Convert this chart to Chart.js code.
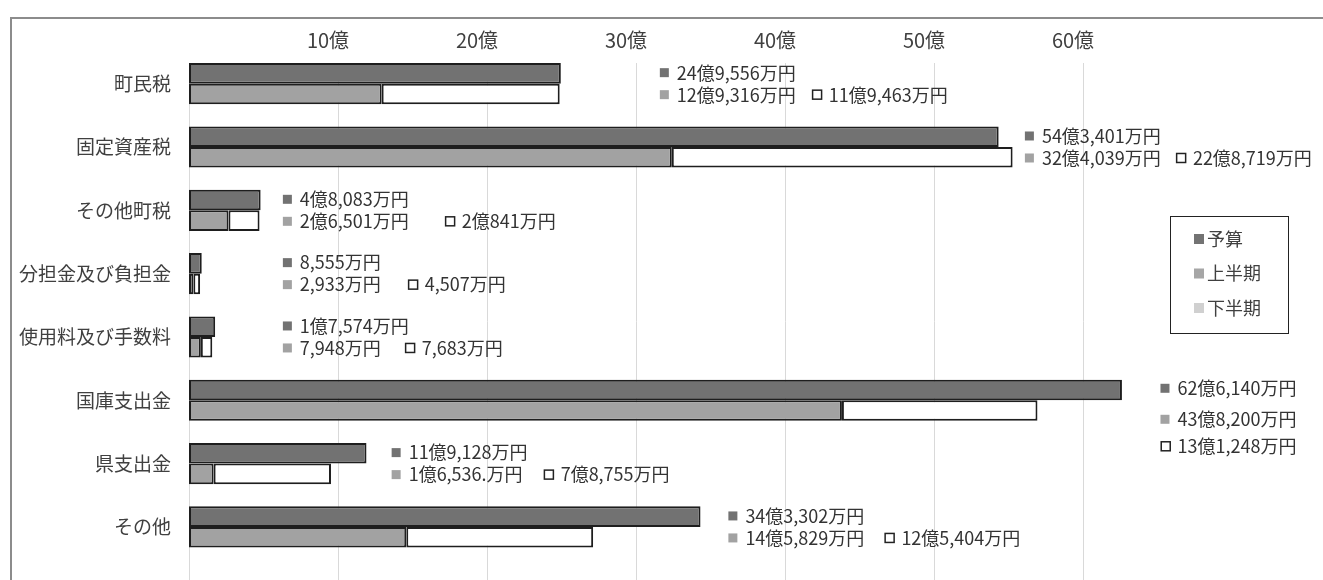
<!DOCTYPE html>
<html lang="ja">
<head>
<meta charset="utf-8">
<title>歳入 予算と執行状況</title>
<script src="https://cdn.jsdelivr.net/npm/chart.js@4.4.1/dist/chart.umd.min.js"></script>
<style>
    html, body { margin: 0; padding: 0; background: #fff; }
    #wrap { width: 1323px; height: 580px; position: relative; }
</style>
</head>
<body>
<div id="wrap"><canvas id="revChart"></canvas></div>
<script>
// 歳入の予算・上半期・下半期 (単位: 万円)
const categories = ['町民税', '固定資産税', 'その他町税', '分担金及び負担金', '使用料及び手数料', '国庫支出金', '県支出金', 'その他'];
const budget     = [249556, 543401, 48083, 8555, 17574, 626140, 119128, 343302];
const firstHalf  = [129316, 324039, 26501, 2933, 7948, 438200, 16536, 145829];
const secondHalf = [119463, 228719, 20841, 4507, 7683, 131248, 78755, 125404];

const budgetText = ['24億9,556万円', '54億3,401万円', '4億8,083万円', '8,555万円', '1億7,574万円', '62億6,140万円', '11億9,128万円', '34億3,302万円'];
const firstText  = ['12億9,316万円', '32億4,039万円', '2億6,501万円', '2,933万円', '7,948万円', '43億8,200万円', '1億6,536.万円', '14億5,829万円'];
const secondText = ['11億9,463万円', '22億8,719万円', '2億841万円', '4,507万円', '7,683万円', '13億1,248万円', '7億8,755万円', '12億5,404万円'];

const seriesNames = ['予算', '上半期', '下半期'];
const tickStep = 10;   // 億
const tickLast = 60;   // 億

(function () {
    const dark = '#727272';
    const mid = '#a2a2a2';
    const edge = '#1e1e1e';
    const text = '#404040';
    const font = '"Noto Sans CJK JP", "Noto Sans", sans-serif';
    const oku = v => v / 10000;

    // where each label block starts (axis value in 億) and how far the □ item sits to the right
    const labelAt = [31.6, 56.1, 6.3, 6.3, 6.3, 65.2, 13.6, 36.2];
    const secondGap = [152, 151, 162, 125, 122, 0, 152, 156];
    const legendColors = ['#737373', '#a6a6a6', '#d0d0d0'];

    function mark(c, x, y, fill) {
        if (fill) {
            c.fillStyle = fill;
            c.fillRect(x, y - 4.5, 9, 9);
        } else {
            c.strokeStyle = '#222';
            c.lineWidth = 1.5;
            c.strokeRect(x + 0.75, y - 4.5, 9, 9);
        }
    }

    const sheet = {
        id: 'sheet',
        beforeDraw(chart) {
            const c = chart.ctx;
            c.save();
            c.fillStyle = '#fff';
            c.fillRect(0, 0, chart.width, chart.height);
            c.strokeStyle = '#8c8c8c';
            c.lineWidth = 2;
            c.strokeRect(11, 18, chart.width + 20, chart.height + 20);
            c.restore();
        },
        beforeDatasetsDraw(chart) {
            // vertical grid: from just above the first bar down to the bottom edge
            const c = chart.ctx, xs = chart.scales.x, a = chart.chartArea;
            c.save();
            c.strokeStyle = '#d9d9d9';
            c.lineWidth = 1;
            xs.ticks.forEach(t => {
                if (t.value > tickLast) return;
                const x = Math.round(xs.getPixelForValue(t.value)) + 0.5;
                c.beginPath();
                c.moveTo(x, a.top + 11);
                c.lineTo(x, chart.height);
                c.stroke();
            });
            c.restore();
        },
        afterDatasetsDraw(chart) {
            const c = chart.ctx;
            const xs = chart.scales.x, ys = chart.scales.y;
            c.save();
            c.font = '18px ' + font;
            c.textBaseline = 'middle';
            categories.forEach((cat, i) => {
                const yc = ys.getPixelForValue(i);
                const x = xs.getPixelForValue(labelAt[i]);
                const three = secondGap[i] === 0;
                const y1 = yc - (three ? 12 : 11);
                const y2 = yc + (three ? 19 : 11);
                mark(c, x, y1, dark);
                c.fillStyle = '#333';
                c.fillText(budgetText[i], x + 17, y1);
                mark(c, x, y2, mid);
                c.fillStyle = '#333';
                c.fillText(firstText[i], x + 17, y2);
                let x3 = x + secondGap[i], y3 = y2;
                if (three) y3 = yc + 46;
                mark(c, x3, y3, null);
                c.fillStyle = '#333';
                c.fillText(secondText[i], x3 + 17, y3);
            });

            // legend box
            c.strokeStyle = '#222';
            c.lineWidth = 1;
            c.strokeRect(1170.5, 216.5, 118, 117);
            c.font = '18px ' + font;
            seriesNames.forEach((n, k) => {
                const y = 239 + k * 34.5;
                c.fillStyle = legendColors[k];
                c.fillRect(1194, y - 5, 10, 10);
                c.fillStyle = text;
                c.fillText(n, 1207, y);
            });
            c.restore();
        }
    };

    const ctx = document.getElementById('revChart');
    new Chart(ctx, {
        type: 'bar',
        data: {
            labels: categories,
            datasets: [
                { label: seriesNames[0], data: budget.map(oku), stack: 'b', backgroundColor: dark, borderColor: edge, borderWidth: 2, borderSkipped: false },
                { label: seriesNames[1], data: firstHalf.map(oku), stack: 'h', backgroundColor: mid, borderColor: edge, borderWidth: 2, borderSkipped: false },
                { label: seriesNames[2], data: secondHalf.map(oku), stack: 'h', backgroundColor: '#ffffff', borderColor: edge, borderWidth: 2, borderSkipped: false }
            ]
        },
        options: {
            indexAxis: 'y',
            responsive: true,
            maintainAspectRatio: false,
            animation: false,
            categoryPercentage: 0.65,
            barPercentage: 1,
            layout: { padding: { left: 0, top: 0, right: 91, bottom: 20 } },
            scales: {
                x: {
                    position: 'top',
                    stacked: true,
                    min: 0,
                    max: 70,
                    afterFit: s => { s.height = 52; },
                    border: { display: false },
                    grid: { display: false, drawTicks: false },
                    ticks: {
                        stepSize: tickStep,
                        padding: 0,
                        labelOffset: -10,
                        color: text,
                        font: { size: 20, family: font },
                        callback: v => (v > 0 && v <= tickLast) ? v + '億' : ''
                    }
                },
                y: {
                    stacked: true,
                    afterFit: s => { s.width = 189; },
                    border: { display: false },
                    grid: { display: false },
                    ticks: { color: text, padding: 10, font: { size: 19, family: font } }
                }
            },
            plugins: {
                legend: { display: false },
                tooltip: { enabled: false }
            }
        },
        plugins: [sheet]
    });
})();
</script>
</body>
</html>
